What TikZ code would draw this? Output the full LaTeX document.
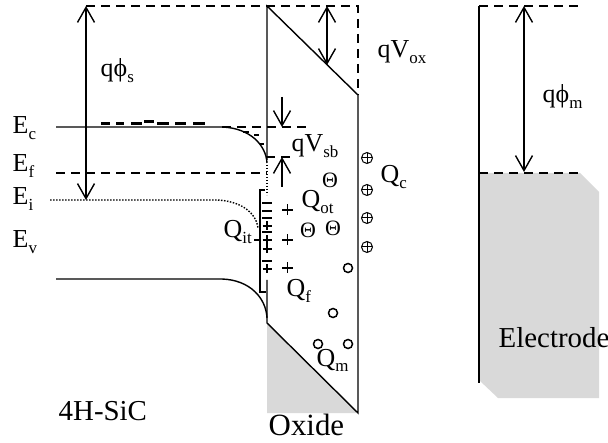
\documentclass[tikz,border=0pt]{standalone}
\usepackage{fontspec}
\setmainfont{Liberation Serif}
\usetikzlibrary{arrows.meta}
\newcommand\lbsub[1]{\raisebox{-0.2em}{\fontsize{17}{17}\selectfont #1}}
\tikzset{
  bar/.tip={Straight Barb[length=15bp,width=17bp]},
  dim/.style={{bar}-{bar}},
  dashline/.style={dash pattern=on 9bp off 6bp},
  dotline/.style={dash pattern=on 1.5bp off 1.5bp},
  gfill/.style={fill=black!15},
  sym/.style={font=\fontsize{26}{26}\selectfont, inner sep=0, anchor=base west},
  big/.style={font=\fontsize{29}{29}\selectfont, inner sep=0, anchor=base west},
  thetasym/.style={font=\fontsize{22}{22}\selectfont, inner sep=0},
  oplus/.style={circle, draw, line width=1bp, minimum size=11bp, inner sep=0,
    path picture={\draw[line width=1bp] (path picture bounding box.north) -- (path picture bounding box.south)
      (path picture bounding box.west) -- (path picture bounding box.east);}},
  hole/.style={circle, draw, line width=1.5bp, minimum size=9bp, inner sep=0},
  pls/.pic={\draw[line width=1.6bp] (-5.5,0)--(5.5,0) (0,-5.5)--(0,5.5);},
  spls/.pic={\draw[line width=1.5bp] (-4.5,0)--(4.5,0) (0,-4.5)--(0,4.5);},
  smin/.pic={\draw[line width=1.5bp] (-5,0)--(5,0);}
}
\begin{document}
\begin{tikzpicture}[x=1bp,y=-1bp,line width=1.4bp]
\useasboundingbox (0,0) rectangle (608,443);
% gray regions
\fill[gfill] (267,323) -- (358,413) -- (267,413) -- cycle;
\fill[gfill] (480,173) -- (580,173) -- (599,192) -- (599,398) -- (498,398) -- (480,381) -- cycle;
% oxide outline
\draw (267,160) -- (267,6) -- (358,95) -- (358,413) -- (267,323) -- (267,280);
% bands
\draw (56,127) -- (222,127) .. controls (250,128) and (266,145) .. (267,163);
\draw (56,279) -- (222,279) .. controls (250,280) and (266,298) .. (267,318);
\draw[dotline] (50,200) -- (217,200) .. controls (240,201) and (256,212) .. (258,228);
\draw[dotline] (267,165) -- (267,195);
% dashed lines
\draw[dashline] (86,6) -- (358,6) -- (358,95);
\draw[dashline] (222,127) -- (308,127);
\draw[dashline] (266,157) -- (296,157);
\draw[dashline] (56,173) -- (267,173);
\draw[dashline] (479,6) -- (580,6);
\draw[dashline] (479,173) -- (580,173);
% electrons near Ec
\foreach \a/\b/\y in {101/110/123.5,116/124/123.5,131/142/123.5,144/154/121.5,157/169/123.5,175/186/123.5,193/205/123.5,243/249/132,254/259/135,260/264/144}
  \draw[line width=2.2bp] (\a,\y) -- (\b,\y);
% electrode line
\draw (479,6) -- (479,383);
% interface bracket
\draw (265,190) -- (260,190) -- (260,292) -- (266,292);
\foreach \y in {203,211,218,232,261} \pic at (267,\y) {smin};
\foreach \y in {226,240,249,269} \pic at (267,\y) {spls};
% dimension arrows
\coordinate (s1) at (86,6); \coordinate (s2) at (86,200);
\coordinate (o1) at (327,6); \coordinate (o2) at (327,65);
\coordinate (m1) at (524,6); \coordinate (m2) at (524,172);
\coordinate (b1) at (282,97); \coordinate (b2) at (282,127);
\coordinate (b3) at (282,187); \coordinate (b4) at (282,157);
\draw[dim] (s1) -- (s2);
\draw[dim] (o1) -- (o2);
\draw[dim] (m1) -- (m2);
\draw[-bar] (b1) -- (b2);
\draw[-bar] (b3) -- (b4);
% labels
\node[sym] (qphis) at (100,77) {qϕ\lbsub{s}};
\node[sym] (qvox) at (377,58) {qV\lbsub{ox}};
\node[sym] (qvsb) at (291,152) {qV\lbsub{sb}};
\node[sym] (qphim) at (542,103) {qϕ\lbsub{m}};
\node[sym] (qot) at (301,208) {Q\lbsub{ot}};
\node[sym] (qit) at (223,238) {Q\lbsub{it}};
\node[sym] (qf) at (286,297) {Q\lbsub{f}};
\node[sym] (qc) at (380,183) {Q\lbsub{c}};
\node[sym] (qm) at (316,366) {Q\lbsub{m}};
\node[sym] (ec) at (12,134) {E\lbsub{c}};
\node[sym] (ef) at (12,172) {E\lbsub{f}};
\node[sym] (ei) at (12,205) {E\lbsub{i}};
\node[sym] (ev) at (12,248) {E\lbsub{v}};
\node[big] (sic) at (58,420) {4H-SiC};
\node[big, font=\fontsize{31}{31}\selectfont] (oxide) at (268,435) {Oxide};
\node[big] (electrode) at (498,347) {Electrode};
\draw (254,240) -- (260,240);
% oxide trapped charges
\foreach \y in {210,240,268} \pic at (287.5,\y) {pls};
\node[thetasym] (t1) at (330,180) {Θ};
\node[thetasym] (t2) at (308,230) {Θ};
\node[thetasym] (t3) at (333,228) {Θ};
\foreach \y/\n in {158/1,190/2,218/3,247/4} \node[oplus] (c\n) at (367,\y) {};
\foreach \x/\y/\n in {348/268/1,333/313/2,318/344/3,348/344/4} \node[hole] (h\n) at (\x,\y) {};
\end{tikzpicture}
\end{document}
